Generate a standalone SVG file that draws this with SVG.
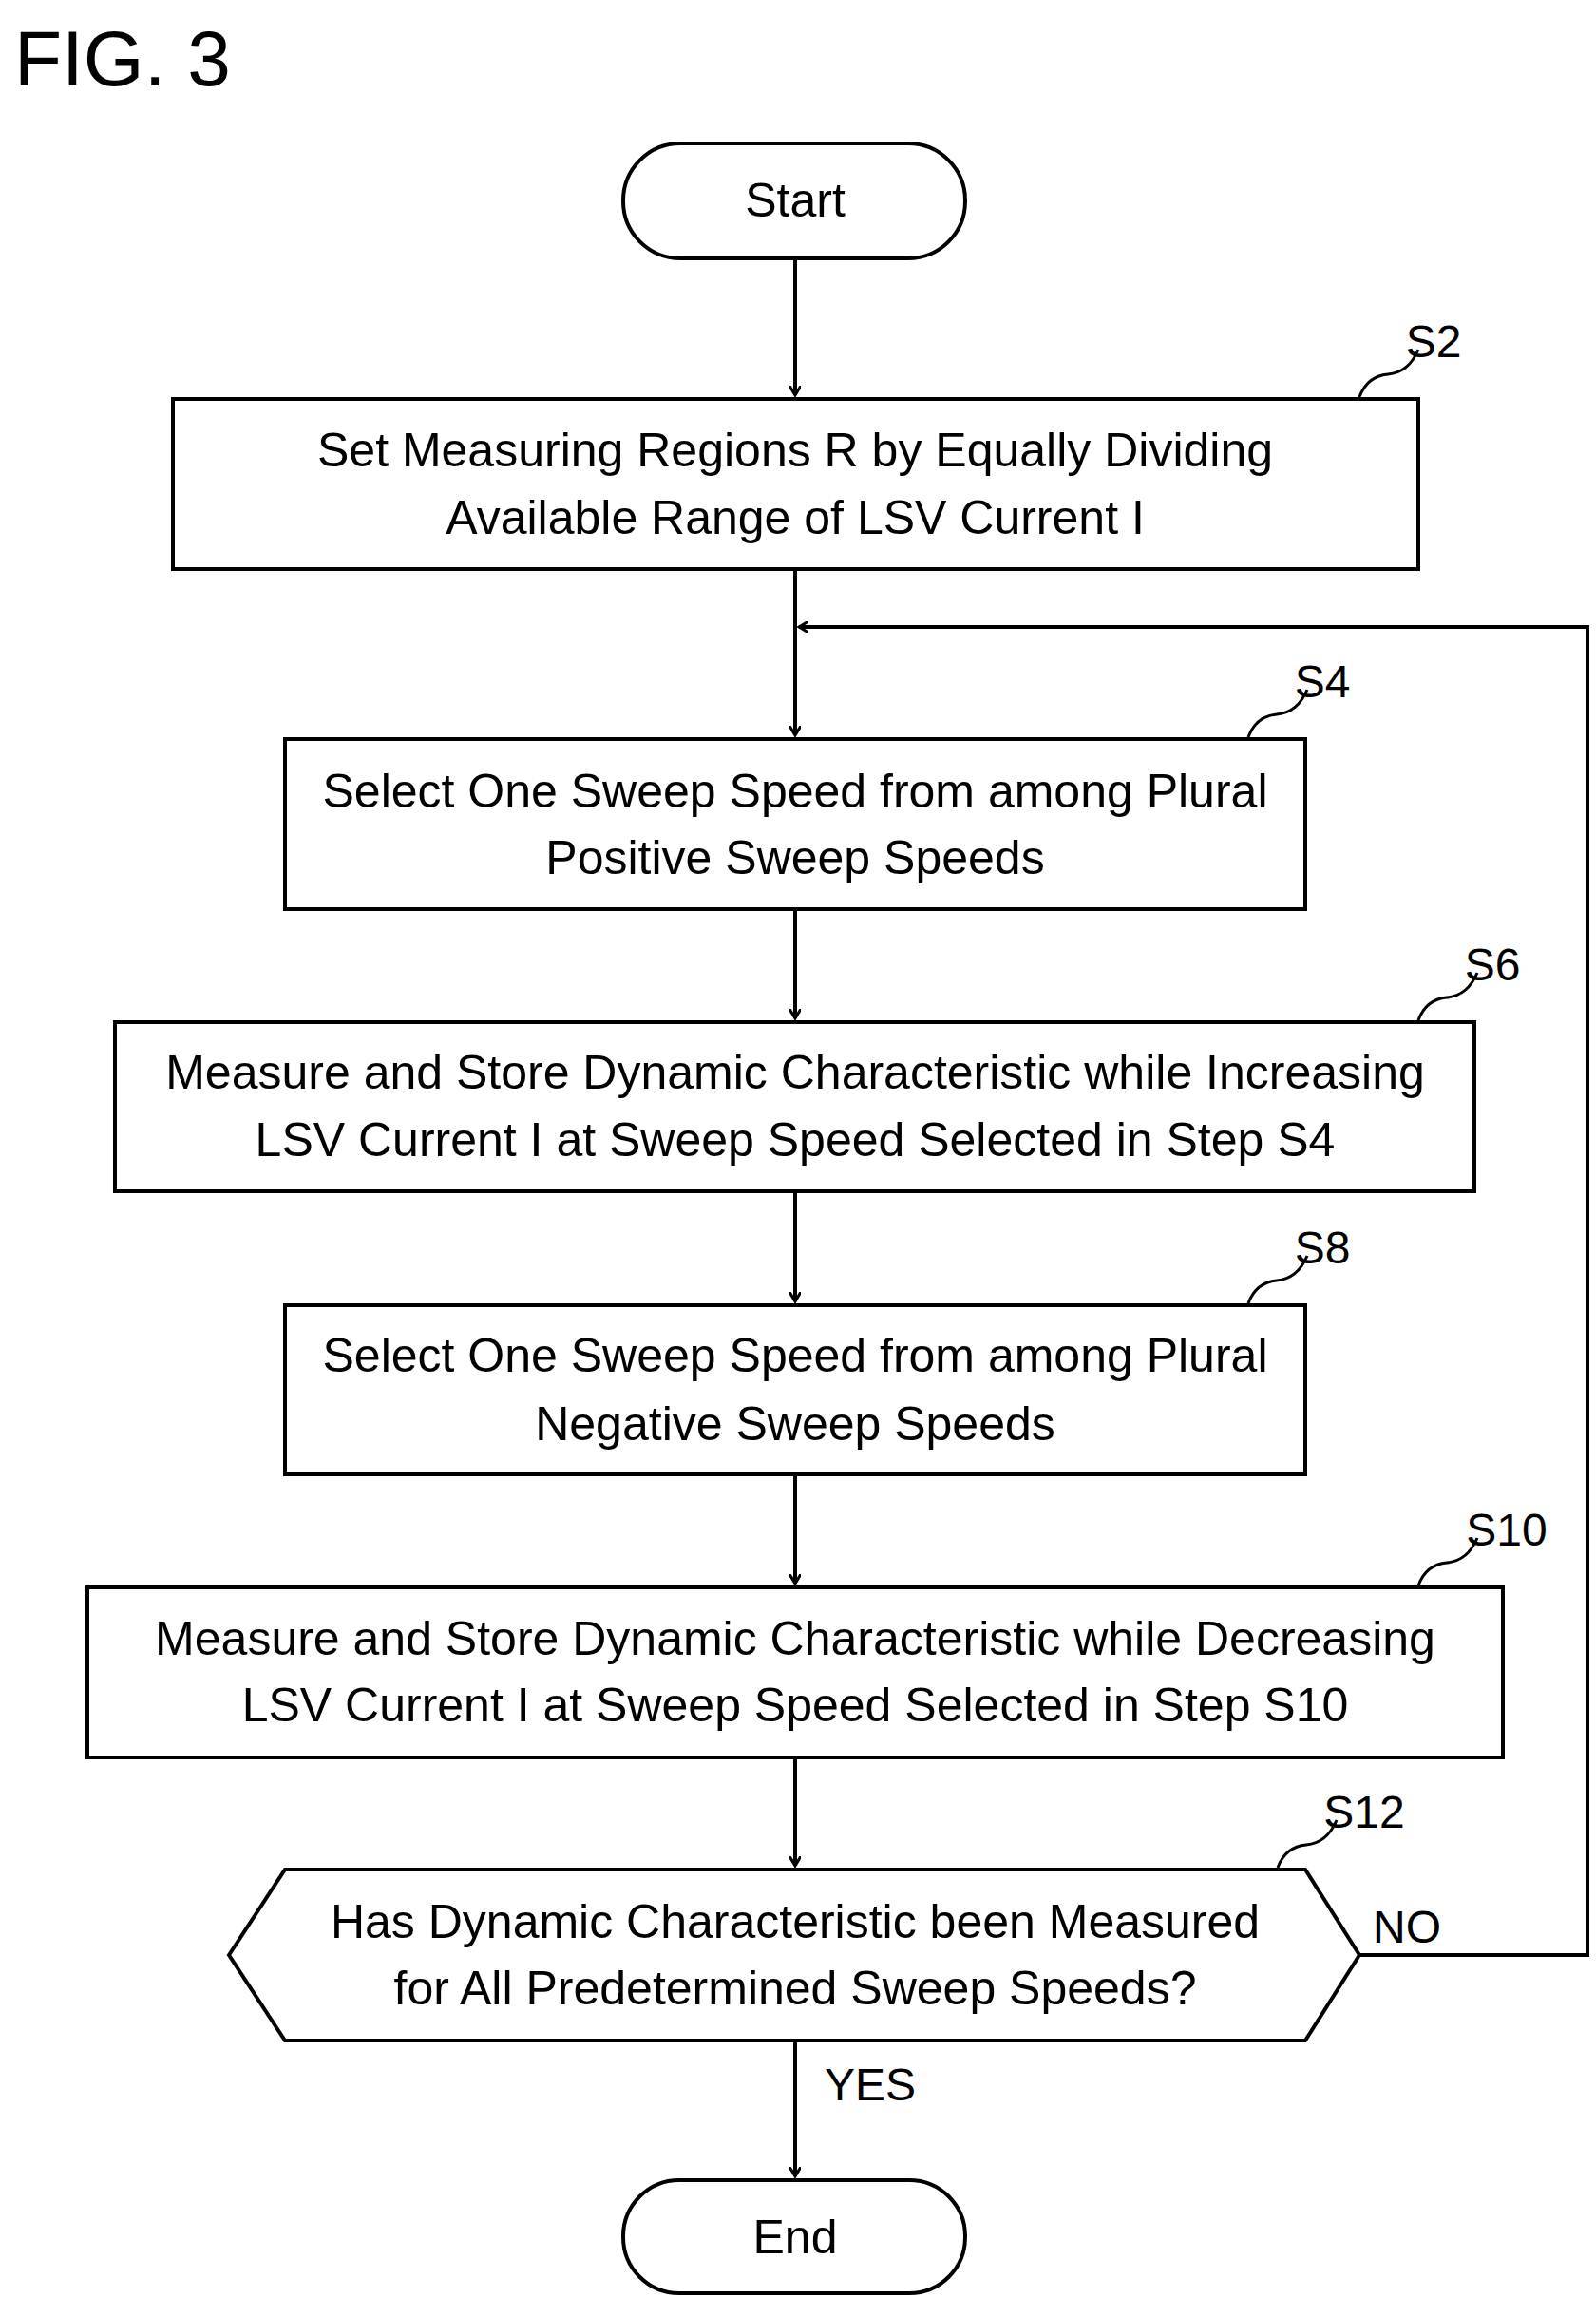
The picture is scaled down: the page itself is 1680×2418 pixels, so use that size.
<svg xmlns="http://www.w3.org/2000/svg" width="1680" height="2418" viewBox="0 0 1680 2418">
<defs>
<marker id="ah" markerWidth="12" markerHeight="12" refX="10" refY="6" orient="auto" markerUnits="userSpaceOnUse" viewBox="0 0 12 12">
<path d="M0,0 L10,6 L0,12" fill="none" stroke="#000" stroke-width="3"/>
</marker>
<style>
.b{fill:#fff;stroke:#000;stroke-width:4}
.t{font-family:"Liberation Sans",Arial,sans-serif;font-size:50px;text-anchor:middle;fill:#000}
.l{font-family:"Liberation Sans",Arial,sans-serif;font-size:48px;text-anchor:middle;fill:#000}
.c{fill:none;stroke:#000;stroke-width:4}
.s{fill:none;stroke:#000;stroke-width:3}
</style>
</defs>
<rect width="1680" height="2418" fill="#fff"/>
<text x="15" y="90" font-family="Liberation Sans,Arial,sans-serif" font-size="82">FIG. 3</text>
<g id="connectors">
<line class="c" x1="837" y1="272" x2="837" y2="416" marker-end="url(#ah)"/>
<line class="c" x1="837" y1="599" x2="837" y2="774" marker-end="url(#ah)"/>
<line class="c" x1="837" y1="957" x2="837" y2="1072" marker-end="url(#ah)"/>
<line class="c" x1="837" y1="1254" x2="837" y2="1370" marker-end="url(#ah)"/>
<line class="c" x1="837" y1="1552" x2="837" y2="1667" marker-end="url(#ah)"/>
<line class="c" x1="837" y1="1850" x2="837" y2="1964" marker-end="url(#ah)"/>
<line class="c" x1="837" y1="2148" x2="837" y2="2291" marker-end="url(#ah)"/>
<polyline class="c" points="1431,2058 1671,2058 1671,660 841,660" marker-end="url(#ah)"/>
<text class="l" x="1481" y="2045">NO</text>
<text class="l" x="916" y="2211">YES</text>
</g>
<g id="start"><rect class="b" x="656" y="151" width="360" height="121" rx="60"/><text class="t" x="837" y="228">Start</text></g>
<g id="s2"><rect class="b" x="182" y="420" width="1311" height="179"/>
<text class="t" x="837" y="491">Set Measuring Regions R by Equally Dividing</text>
<text class="t" x="837" y="562">Available Range of LSV Current I</text>
<path class="s" d="M1431,418 q8,-22 30,-24 t32,-26"/><text class="l" x="1509" y="376">S2</text></g>
<g id="s4"><rect class="b" x="300" y="778" width="1074" height="179"/>
<text class="t" x="837" y="850">Select One Sweep Speed from among Plural</text>
<text class="t" x="837" y="920">Positive Sweep Speeds</text>
<path class="s" d="M1314,776 q8,-22 30,-24 t32,-26"/><text class="l" x="1392" y="734">S4</text></g>
<g id="s6"><rect class="b" x="121" y="1076" width="1431" height="178"/>
<text class="t" x="837" y="1146">Measure and Store Dynamic Characteristic while Increasing</text>
<text class="t" x="837" y="1217">LSV Current I at Sweep Speed Selected in Step S4</text>
<path class="s" d="M1493,1074 q8,-22 30,-24 t32,-26"/><text class="l" x="1571" y="1032">S6</text></g>
<g id="s8"><rect class="b" x="300" y="1374" width="1074" height="178"/>
<text class="t" x="837" y="1444">Select One Sweep Speed from among Plural</text>
<text class="t" x="837" y="1516">Negative Sweep Speeds</text>
<path class="s" d="M1314,1372 q8,-22 30,-24 t32,-26"/><text class="l" x="1392" y="1330">S8</text></g>
<g id="s10"><rect class="b" x="92" y="1671" width="1490" height="179"/>
<text class="t" x="837" y="1742">Measure and Store Dynamic Characteristic while Decreasing</text>
<text class="t" x="837" y="1812">LSV Current I at Sweep Speed Selected in Step S10</text>
<path class="s" d="M1493,1669 q8,-22 30,-24 t32,-26"/><text class="l" x="1586" y="1627">S10</text></g>
<g id="s12"><polygon class="b" points="241,2058 300,1968 1374,1968 1431,2058 1374,2148 300,2148"/>
<text class="t" x="837" y="2040">Has Dynamic Characteristic been Measured</text>
<text class="t" x="837" y="2110">for All Predetermined Sweep Speeds?</text>
<path class="s" d="M1345,1966 q8,-22 30,-24 t32,-26"/><text class="l" x="1436" y="1924">S12</text></g>
<g id="end"><rect class="b" x="656" y="2295" width="360" height="119" rx="59"/><text class="t" x="837" y="2372">End</text></g>
</svg>
